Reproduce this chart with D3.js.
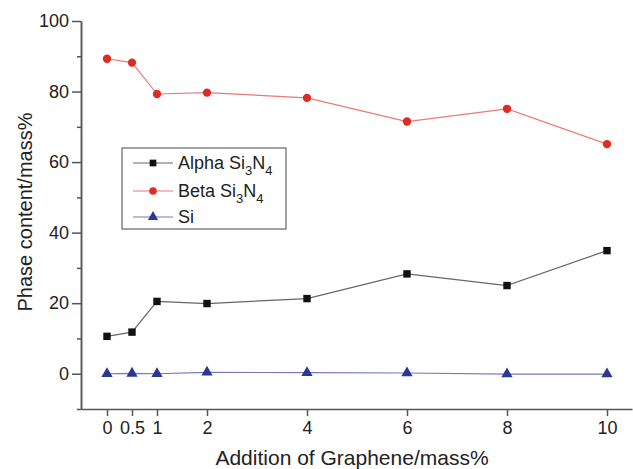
<!DOCTYPE html>
<html>
<head>
<meta charset="utf-8">
<script src="https://cdn.jsdelivr.net/npm/d3@7"></script>
<style>
  body { margin: 0; background: #fff; }
  text { font-family: "Liberation Sans", Arial, sans-serif; }
</style>
</head>
<body>
<svg id="chart" width="633" height="469"></svg>
<script>
var graphene = [0, 0.5, 1, 2, 4, 6, 8, 10];
var alpha = [10.6, 11.8, 20.5, 19.9, 21.3, 28.3, 25.0, 34.9];
var beta = [89.3, 88.2, 79.3, 79.7, 78.2, 71.5, 75.1, 65.1];
var si = [0.0, 0.1, 0.0, 0.4, 0.3, 0.2, -0.1, -0.1];
var yTicks = [0, 20, 40, 60, 80, 100];
var yMinor = [-10, 10, 30, 50, 70, 90];

var svg = d3.select("#chart");
var x = d3.scaleLinear().domain([-0.52, 10.5]).range([81, 632]);
var y = d3.scaleLinear().domain([-10, 100]).range([409, 21]);

// axes
svg.append("g").attr("transform", "translate(81,0)")
    .call(d3.axisLeft(y).tickValues(yTicks).tickSize(9).tickPadding(3).tickSizeOuter(0));
svg.append("g").attr("transform", "translate(81,0)")
    .call(d3.axisLeft(y).tickValues(yMinor).tickSize(4).tickFormat("").tickSizeOuter(0));
svg.append("g").attr("transform", "translate(0,409)")
    .call(d3.axisBottom(x).tickValues(graphene).tickSize(7).tickPadding(5).tickSizeOuter(0)
        .tickFormat(function (d) { return d; }));

svg.selectAll(".domain, .tick line").attr("stroke", "#555").attr("stroke-width", 1.5);
svg.selectAll(".tick text").attr("fill", "#222").style("font-size", "18px")
    .style("font-family", "'Liberation Sans', Arial, sans-serif");

// axis titles
svg.append("text").attr("x", 352).attr("y", 465).attr("text-anchor", "middle")
    .style("font-size", "21px").attr("fill", "#222").text("Addition of Graphene/mass%");
svg.append("text").attr("transform", "translate(32,212) rotate(-90)").attr("text-anchor", "middle")
    .style("font-size", "20px").attr("fill", "#222").text("Phase content/mass%");

var series = [
  {name: "Alpha", vals: alpha, line: "#666", fill: "#111", shape: d3.symbolSquare, size: 55},
  {name: "Beta", vals: beta, line: "#e77", fill: "#dd2c24", shape: d3.symbolCircle, size: 55},
  {name: "Si", vals: si, line: "#7777c0", fill: "#2b3794", shape: d3.symbolTriangle, size: 55}
];

var line = d3.line().x(function (d) { return x(d[0]); }).y(function (d) { return y(d[1]); });

series.forEach(function (s) {
  var pts = graphene.map(function (g, i) { return [g, s.vals[i]]; });
  svg.append("path").datum(pts).attr("d", line)
      .attr("fill", "none").attr("stroke", s.line).attr("stroke-width", 1.2);
  svg.selectAll(null).data(pts).enter().append("path")
      .attr("transform", function (d) { return "translate(" + x(d[0]) + "," + y(d[1]) + ")"; })
      .attr("d", d3.symbol().type(s.shape).size(s.size))
      .attr("fill", s.fill);
});

// legend
var leg = svg.append("g");
leg.append("rect").attr("x", 122).attr("y", 148).attr("width", 164).attr("height", 81)
    .attr("fill", "#fff").attr("stroke", "#666").attr("stroke-width", 1.2);
var rows = [163, 191, 217];
var labels = [["Alpha Si", "3", "N", "4"], ["Beta Si", "3", "N", "4"], ["Si"]];
series.forEach(function (s, i) {
  var g = leg.append("g").attr("transform", "translate(0," + rows[i] + ")");
  g.append("line").attr("x1", 133).attr("x2", 173).attr("stroke", s.line).attr("stroke-width", 1.2);
  g.append("path").attr("transform", "translate(153,0)")
      .attr("d", d3.symbol().type(s.shape).size(45)).attr("fill", s.fill);
  var t = g.append("text").attr("x", 178).attr("y", 6).style("font-size", "18px").attr("fill", "#222");
  labels[i].forEach(function (p, j) {
    var ts = t.append("tspan").text(p);
    if (j % 2 === 1) ts.attr("dy", 6).style("font-size", "13px");
    else if (j > 0) ts.attr("dy", -6);
  });
});
</script>
</body>
</html>
